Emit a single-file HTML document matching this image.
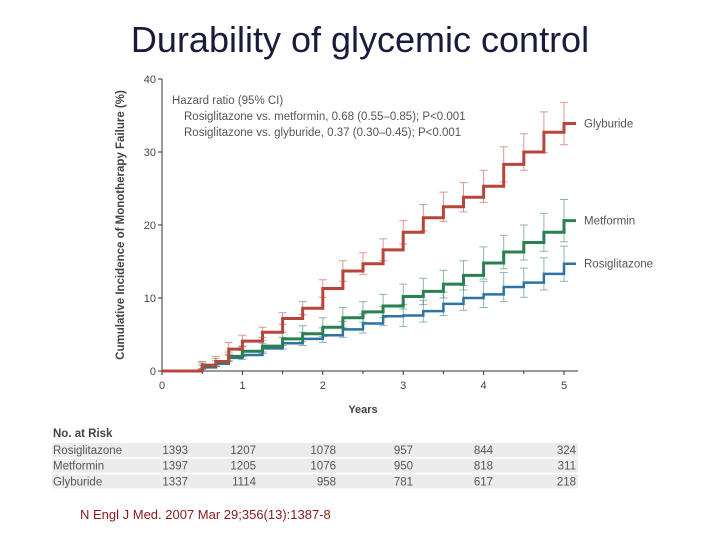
<!DOCTYPE html>
<html><head><meta charset="utf-8"><style>
body{margin:0;background:#fff;width:720px;height:540px;overflow:hidden;font-family:"Liberation Sans",sans-serif}
</style></head><body>
<svg width="720" height="540" viewBox="0 0 720 540" xmlns="http://www.w3.org/2000/svg">
<text x="360" y="52" text-anchor="middle" font-size="36" fill="#1a1a3a">Durability of glycemic control</text>
<g id="plot"></g>
<g id="risk"></g>
<text x="80" y="519" font-size="13" fill="#8b1a1a">N Engl J Med. 2007 Mar 29;356(13):1387-8</text>
</svg>
<script>
const times=[0.5,0.67,0.83,1,1.25,1.5,1.75,2,2.25,2.5,2.75,3,3.25,3.5,3.75,4,4.25,4.5,4.75,5];
const glyburide=[0.8,1.3,3,4.1,5.3,7.2,8.6,11.3,13.7,14.7,16.6,19,21,22.5,23.8,25.3,28.3,30,32.7,33.9];
const metformin=[0.7,1.2,2,2.7,3.4,4.4,5.1,6,7.3,8.1,8.9,10.2,10.9,11.9,13.1,14.8,16.3,17.6,19,20.6];
const rosiglitazone=[0.5,1,1.8,2.2,3.1,3.8,4.4,4.9,5.7,6.5,7.5,7.6,8.2,9.2,10,10.5,11.5,12.1,13.3,14.7];
const ciGly=[0.5,0.7,0.9,0.8,0.7,0.8,0.9,1.2,1.4,1.5,1.5,1.6,1.8,2,2,2.2,2.4,2.5,2.8,2.9];
const ciMet=[0.4,0.5,0.6,0.7,0.8,0.9,1.1,1.3,1.4,1.4,1.6,1.7,1.8,1.9,2,2.2,2.3,2.4,2.6,2.9];
const ciRos=[0.3,0.4,0.5,0.6,0.7,0.8,0.9,1,1.1,1.3,1.3,1.5,1.5,1.6,1.7,1.8,2,2,2.2,2.4];
const yTicks=[0,10,20,30,40];
const xTicks=[0,1,2,3,4,5];
const riskNames=["Rosiglitazone","Metformin","Glyburide"];
const riskRos=[1393,1207,1078,957,844,324];
const riskMet=[1397,1205,1076,950,818,311];
const riskGly=[1337,1114,958,781,617,218];

const NS="http://www.w3.org/2000/svg";
const X=t=>162+t*80.4, Y=v=>371-v*7.3;
const plot=document.getElementById('plot'), risk=document.getElementById('risk');
function mk(p,tag,a,txt){const e=document.createElementNS(NS,tag);for(const k in a)e.setAttribute(k,a[k]);if(txt!==undefined)e.textContent=txt;p.appendChild(e);return e;}
let e;
e=mk(plot,'line',{x1:X(0),y1:Y(40),x2:X(0),y2:Y(0),stroke:'#333','stroke-width':1});


e=mk(plot,'line',{x1:X(0),y1:Y(0),x2:578,y2:Y(0),stroke:'#333','stroke-width':1});


yTicks.forEach(v=>{
 mk(plot,'line',{x1:X(0)-4,y1:Y(v),x2:X(0),y2:Y(v),stroke:'#333'});
 e=mk(plot,'text',{x:X(0)-6,y:Y(v)+4,'text-anchor':'end','font-size':11,fill:'#444'},v);
 
 
});
xTicks.forEach(t=>{
 mk(plot,'line',{x1:X(t),y1:Y(0),x2:X(t),y2:Y(0)+4,stroke:'#333'});
 if(t<5) mk(plot,'line',{x1:X(t+0.5),y1:Y(0),x2:X(t+0.5),y2:Y(0)+3,stroke:'#333'});
 e=mk(plot,'text',{x:X(t),y:Y(0)+18,'text-anchor':'middle','font-size':11,fill:'#444'},t);
 
 
});
e=mk(plot,'text',{x:363,y:413,'text-anchor':'middle','font-size':11,'font-weight':'bold',fill:'#444'},'Years');


e=mk(plot,'text',{x:0,y:0,transform:'translate(124,225) rotate(-90)','text-anchor':'middle','font-size':11.5,'font-weight':'bold',fill:'#444'},'Cumulative Incidence of Monotherapy Failure (%)');


[['Hazard ratio (95% CI)',172,104],['Rosiglitazone vs. metformin, 0.68 (0.55–0.85); P<0.001',184,120],['Rosiglitazone vs. glyburide, 0.37 (0.30–0.45); P<0.001',184,136]].forEach(a=>{
 e=mk(plot,'text',{x:a[1],y:a[2],'font-size':11.5,fill:'#555'},a[0]);
 
 
});
function series(vals,ci,color,name,w){
 let d='M'+X(0)+','+Y(0);
 times.forEach((t,i)=>{d+=' H'+X(t)+' V'+Y(vals[i]);});
 d+=' H'+X(5.15);
 times.forEach((t,i)=>{
  const x=X(t);
  e=mk(plot,'path',{d:`M${x-4},${Y(vals[i]+ci[i])}H${x+4}M${x},${Y(vals[i]+ci[i])}V${Y(vals[i]-ci[i])}M${x-4},${Y(vals[i]-ci[i])}H${x+4}`,stroke:color,'stroke-width':1,opacity:0.55,fill:'none'});
  
  
 });
 e=mk(plot,'path',{d:d,stroke:color,'stroke-width':w,fill:'none'});
 
 
 e=mk(plot,'text',{x:584,y:Y(vals[vals.length-1])+4,'font-size':11.5,fill:'#555'},name.charAt(0).toUpperCase()+name.slice(1));
 
 
}
series(rosiglitazone,ciRos,'#2f72a4','rosiglitazone',2.5);
series(metformin,ciMet,'#2a8050','metformin',3);
series(glyburide,ciGly,'#b9453a','glyburide',3);

e=mk(risk,'text',{x:53,y:437,'font-size':11.5,'font-weight':'bold',fill:'#444'},'No. at Risk');


const rows=[riskRos,riskMet,riskGly];
const colX=[188,256,336,413,493,576];
rows.forEach((r,i)=>{
 const y=443+i*15.7;
 e=mk(risk,'rect',{x:52,y:y,width:526,height:14,fill:'#ececec'});
 
 
 e=mk(risk,'text',{x:53,y:y+11,'font-size':11.5,fill:'#555'},riskNames[i]);
 
 
 r.forEach((v,j)=>{
  e=mk(risk,'text',{x:colX[j],y:y+11,'text-anchor':'end','font-size':11.5,fill:'#555'},v);
  
  
 });
});
</script>
</body></html>
